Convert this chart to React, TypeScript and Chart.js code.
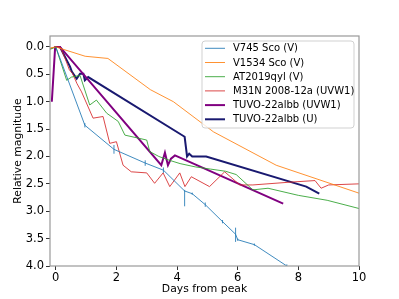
import React, { useEffect, useRef } from "react";
import { Chart, registerables } from "chart.js";
Chart.register(...registerables);

// ---- Data ----
const v745Days = [0.0, 0.96, 1.92, 2.95, 3.55, 4.25, 4.5, 4.93, 5.5, 5.93, 6.0, 6.55, 7.62];
const v745Mag = [0.0, 1.43, 1.87, 2.12, 2.25, 2.63, 2.68, 2.88, 3.19, 3.42, 3.52, 3.61, 4.0];
const v745ErrUp = [0, 0.04, 0.08, 0.05, 0.05, 0.02, 0.02, 0.04, 0.03, 0.12, 0.02, 0.02, 0.03];
const v745ErrDown = [0, 0.04, 0.08, 0.05, 0.05, 0.28, 0.02, 0.04, 0.03, 0.14, 0.02, 0.02, 0.03];

const v1534Days = [-0.3, 0.0, 0.97, 1.72, 3.12, 3.88, 5.2, 7.27, 10.0];
const v1534Mag = [0.03, 0.0, 0.17, 0.21, 0.78, 1.0, 1.55, 2.16, 2.67];

const qylDays = [-0.3, 0.0, 0.36, 0.52, 0.8, 1.12, 1.34, 1.68, 2.06, 2.28, 3.0, 3.1, 3.4, 3.75, 4.1, 4.6, 5.1, 5.6, 5.95, 6.5, 7.0, 8.0, 8.95, 10.0];
const qylMag = [0.07, 0.0, 0.61, 0.55, 0.52, 1.06, 0.97, 1.21, 1.36, 1.61, 1.7, 1.91, 2.0, 2.07, 2.13, 2.19, 2.23, 2.27, 2.33, 2.61, 2.58, 2.71, 2.8, 2.95];

const m31Days = [-0.3, 0.0, 0.15, 0.35, 0.45, 0.55, 0.7, 0.85, 1.23, 1.56, 1.78, 2.0, 2.22, 2.49, 3.0, 3.26, 3.54, 3.76, 4.09, 4.26, 4.47, 5.07, 5.57, 6.07, 6.5, 7.7, 8.55, 8.75, 9.0, 10.0];
const m31Mag = [0.05, 0.0, 0.0, 0.27, 0.42, 0.48, 0.67, 0.82, 1.3, 1.27, 1.76, 1.73, 2.16, 2.28, 2.3, 2.49, 2.3, 2.55, 2.3, 2.55, 2.37, 2.55, 2.28, 2.52, 2.52, 2.47, 2.44, 2.58, 2.52, 2.5];

const tuvoW1Days = [-0.13, -0.02, 0.14, 3.48, 3.6, 3.7, 3.8, 3.93, 7.5];
const tuvoW1Mag = [1.0, 0.0, 0.0, 2.16, 1.93, 2.16, 2.04, 1.98, 2.86];

const tuvoUDays = [0.0, 0.14, 0.36, 0.47, 0.53, 0.69, 0.8, 0.91, 0.96, 1.07, 4.25, 4.33, 4.4, 4.5, 4.96, 8.26, 8.69];
const tuvoUMag = [0.0, 0.0, 0.24, 0.36, 0.45, 0.58, 0.49, 0.49, 0.61, 0.55, 1.64, 2.0, 1.95, 2.0, 2.0, 2.55, 2.68];

const seriesLabels = ["V745 Sco (V)", "V1534 Sco (V)", "AT2019qyl (V)", "M31N 2008-12a (UVW1)", "TUVO-22albb (UVW1)", "TUVO-22albb (U)"];
const xTicks = [0, 2, 4, 6, 8, 10];
const yTicks = [0, 0.5, 1.0, 1.5, 2.0, 2.5, 3.0, 3.5, 4.0];

const pts = (xs: number[], ys: number[]) => xs.map((x, i) => ({ x, y: ys[i] }));

const FONT = "'DejaVu Sans', sans-serif";

const extras = {
  id: "extras",
  afterDatasetsDraw(chart: any) {
    const { ctx, chartArea, scales } = chart;
    const { left, top, right, bottom } = chartArea;
    ctx.save();
    ctx.beginPath();
    ctx.rect(left, top, right - left, bottom - top);
    ctx.clip();
    const ds = chart.data.datasets[0];
    ctx.strokeStyle = ds.borderColor;
    ctx.lineWidth = 1;
    v745Days.forEach((d, i) => {
      const up = v745ErrUp[i], dn = v745ErrDown[i];
      if (!up && !dn) return;
      const px = scales.x.getPixelForValue(d);
      ctx.beginPath();
      ctx.moveTo(px, scales.y.getPixelForValue(v745Mag[i] - up));
      ctx.lineTo(px, scales.y.getPixelForValue(v745Mag[i] + dn));
      ctx.stroke();
    });
    ctx.restore();
  },
  afterDraw(chart: any) {
    const { ctx, chartArea } = chart;
    const { left, top, right, bottom } = chartArea;
    ctx.save();
    // frame
    ctx.strokeStyle = "#999";
    ctx.lineWidth = 1.2;
    ctx.strokeRect(left, top, right - left, bottom - top);
    // legend
    const lx = 202, ly = 41, lw = 152, lh = 87, r = 3;
    ctx.beginPath();
    ctx.moveTo(lx + r, ly);
    ctx.lineTo(lx + lw - r, ly);
    ctx.quadraticCurveTo(lx + lw, ly, lx + lw, ly + r);
    ctx.lineTo(lx + lw, ly + lh - r);
    ctx.quadraticCurveTo(lx + lw, ly + lh, lx + lw - r, ly + lh);
    ctx.lineTo(lx + r, ly + lh);
    ctx.quadraticCurveTo(lx, ly + lh, lx, ly + lh - r);
    ctx.lineTo(lx, ly + r);
    ctx.quadraticCurveTo(lx, ly, lx + r, ly);
    ctx.closePath();
    ctx.fillStyle = "rgba(255,255,255,0.8)";
    ctx.fill();
    ctx.strokeStyle = "rgba(204,204,204,0.9)";
    ctx.lineWidth = 1;
    ctx.stroke();
    chart.data.datasets.forEach((d: any, i: number) => {
      const y = 48.3 + i * 14.2;
      ctx.strokeStyle = d.borderColor;
      ctx.lineWidth = d.borderWidth;
      ctx.beginPath();
      ctx.moveTo(205, y);
      ctx.lineTo(225, y);
      ctx.stroke();
      ctx.fillStyle = "#000";
      ctx.font = `10px ${FONT}`;
      ctx.textBaseline = "middle";
      ctx.textAlign = "left";
      ctx.fillText(d.label, 233, y + 0.5);
    });
    ctx.restore();
  },
};

export default function App() {
  const ref = useRef<HTMLCanvasElement>(null);
  useEffect(() => {
    document.body.style.margin = "0";
    const colors = [
      "rgba(31,119,180,0.85)",
      "rgba(255,127,14,0.85)",
      "rgba(44,160,44,0.85)",
      "rgba(214,39,40,0.85)",
      "#800080",
      "#191970",
    ];
    const data = [
      pts(v745Days, v745Mag),
      pts(v1534Days, v1534Mag),
      pts(qylDays, qylMag),
      pts(m31Days, m31Mag),
      pts(tuvoW1Days, tuvoW1Mag),
      pts(tuvoUDays, tuvoUMag),
    ];
    const widths = [1, 1, 1, 1, 2, 2];
    const chart = new Chart(ref.current!, {
      type: "line",
      data: {
        datasets: data.map((d, i) => ({
          label: seriesLabels[i],
          data: d,
          borderColor: colors[i],
          borderWidth: widths[i],
          pointRadius: 0,
          tension: 0,
          fill: false,
        })),
      },
      options: {
        responsive: false,
        animation: false,
        devicePixelRatio: 1,
        layout: { padding: { top: 36, right: 40, left: 0, bottom: 0 } },
        plugins: { legend: { display: false }, tooltip: { enabled: false } },
        scales: {
          x: {
            type: "linear",
            min: -0.19,
            max: 10,
            afterFit: (s: any) => { s.height = 33; },
            afterBuildTicks: (s: any) => { s.ticks = xTicks.map((v) => ({ value: v })); },
            grid: { drawOnChartArea: false, drawTicks: true, tickLength: 4, color: "#333" },
            border: { display: false },
            ticks: { color: "#000", font: { family: FONT, size: 11.5 }, padding: 1, maxRotation: 0, callback: (v: any) => String(v) },
            title: { display: true, text: "Days from peak", color: "#000", font: { family: FONT, size: 10.8 }, padding: { top: 0, bottom: 3 } },
          },
          y: {
            type: "linear",
            reverse: true,
            min: -0.2,
            max: 4.0,
            afterFit: (s: any) => { s.width = 50; },
            afterBuildTicks: (s: any) => { s.ticks = yTicks.map((v) => ({ value: v })); },
            grid: { drawOnChartArea: false, drawTicks: true, tickLength: 4, color: "#333" },
            border: { display: false },
            ticks: { color: "#000", font: { family: FONT, size: 11.5 }, padding: 2, callback: (v: any) => Number(v).toFixed(1) },
            title: { display: true, text: "Relative magnitude", color: "#000", font: { family: FONT, size: 10.8 }, padding: { top: 12, bottom: 0 } },
          },
        },
      },
      plugins: [extras],
    } as any);
    return () => chart.destroy();
  }, []);
  return (
    <div style={{ width: 399, height: 299 }}>
      <canvas ref={ref} width={399} height={299} style={{ display: "block" }} />
    </div>
  );
}
